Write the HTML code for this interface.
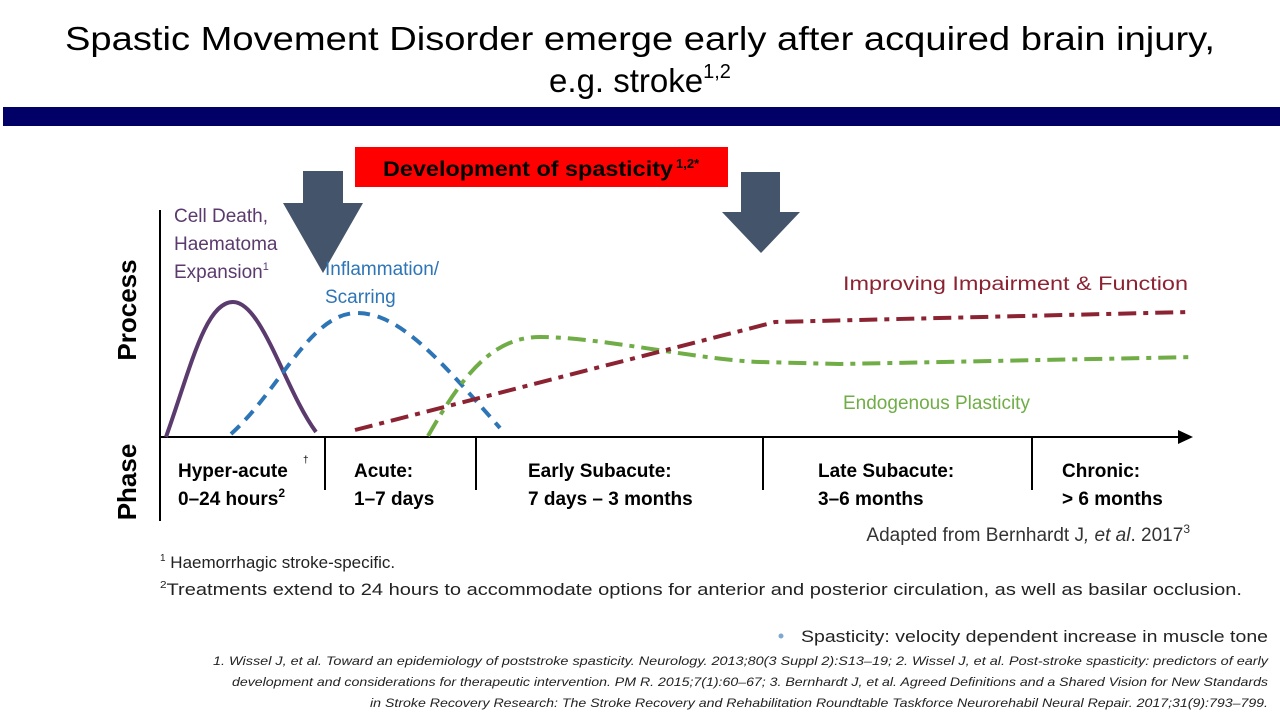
<!DOCTYPE html>
<html><head><meta charset="utf-8"><style>
html,body{margin:0;padding:0;background:#fff;}
svg{display:block;font-family:"Liberation Sans",sans-serif;}
</style></head><body>
<svg width="1280" height="720" viewBox="0 0 1280 720" xmlns="http://www.w3.org/2000/svg">
<text x="640" y="50" font-size="33" text-anchor="middle" textLength="1150" lengthAdjust="spacingAndGlyphs">Spastic Movement Disorder emerge early after acquired brain injury,</text>
<text x="640" y="92" font-size="33" text-anchor="middle">e.g. stroke<tspan font-size="20" dy="-14">1,2</tspan></text>
<rect x="3" y="107" width="1277" height="19" fill="#000066"/>
<rect x="355" y="147" width="373" height="40" fill="#ff0000"/>
<text x="383" y="176" font-size="21" font-weight="bold" textLength="290" lengthAdjust="spacingAndGlyphs">Development of spasticity</text>
<text x="676" y="168" font-size="13" font-weight="bold">1,2*</text>
<polygon points="303,171 343,171 343,203 363,203 323,273 283,203 303,203" fill="#44546a"/>
<polygon points="741,172 780,172 780,212 800,212 761,253 722,212 741,212" fill="#44546a"/>
<line x1="160" y1="210" x2="160" y2="521" stroke="#000" stroke-width="2"/>
<line x1="160" y1="437" x2="1180" y2="437" stroke="#000" stroke-width="2"/>
<polygon points="1178,430 1193,437 1178,444" fill="#000"/>
<g stroke="#000" stroke-width="2">
<line x1="325" y1="437" x2="325" y2="490"/><line x1="476" y1="437" x2="476" y2="490"/>
<line x1="763" y1="437" x2="763" y2="490"/><line x1="1032" y1="437" x2="1032" y2="490"/></g>
<text transform="translate(136,310) rotate(-90)" font-size="26" font-weight="bold" text-anchor="middle">Process</text>
<text transform="translate(136,482) rotate(-90)" font-size="26" font-weight="bold" text-anchor="middle">Phase</text>
<g font-size="19" font-weight="bold">
<text x="178" y="477">Hyper-acute</text><text x="303" y="463" font-size="10" font-weight="normal">†</text>
<text x="178" y="505">0–24 hours<tspan font-size="12" dy="-8">2</tspan></text>
<text x="354" y="477">Acute:</text><text x="354" y="505">1–7 days</text>
<text x="528" y="477">Early Subacute:</text><text x="528" y="505">7 days – 3 months</text>
<text x="818" y="477">Late Subacute:</text><text x="818" y="505">3–6 months</text>
<text x="1062" y="477">Chronic:</text><text x="1062" y="505">&gt; 6 months</text>
</g>
<path d="M166,437 C190,370 205,302 233,302 C262,302 285,390 316,432" fill="none" stroke="#5b3a6e" stroke-width="4"/>
<path d="M231,434 C280,390 310,313 357,313 C400,313 440,360 500,428" fill="none" stroke="#2e75b6" stroke-width="4" stroke-dasharray="12,8"/>
<path d="M428,436 C460,380 490,337 540,337 C600,337 700,360 760,362 L840,364 L1195,357" fill="none" stroke="#70ad47" stroke-width="4" stroke-dasharray="18,7,5,7"/>
<path d="M355,430 L775,322 L1188,312" fill="none" stroke="#8b2332" stroke-width="4" stroke-dasharray="18,7,5,7"/>
<g font-size="19">
<g fill="#5b3a6e"><text x="174" y="222">Cell Death,</text><text x="174" y="250">Haematoma</text><text x="174" y="278">Expansion<tspan font-size="11" dy="-8">1</tspan></text></g>
<g fill="#2e75b6"><text x="325" y="275">Inflammation/</text><text x="325" y="303">Scarring</text></g>
<text x="843" y="290" fill="#8b2332" textLength="345" lengthAdjust="spacingAndGlyphs">Improving Impairment &amp; Function</text>
<text x="843" y="409" fill="#70ad47">Endogenous Plasticity</text>
<text x="1190" y="541" fill="#333" text-anchor="end">Adapted from Bernhardt J<tspan font-style="italic">, et al</tspan>. 2017<tspan font-size="12" dy="-8">3</tspan></text>
</g>
<g font-size="17" fill="#222">
<text x="160" y="568"><tspan font-size="10" dy="-7">1</tspan><tspan dy="7"> Haemorrhagic stroke-specific.</tspan></text>
<text x="160" y="595" textLength="1082" lengthAdjust="spacingAndGlyphs"><tspan font-size="10" dy="-7">2</tspan><tspan dy="7">Treatments extend to 24 hours to accommodate options for anterior and posterior circulation, as well as basilar occlusion.</tspan></text>
</g>
<circle cx="781" cy="636" r="2.5" fill="#7fa7d0"/>
<text x="1268" y="642" font-size="17" text-anchor="end" fill="#222" textLength="467" lengthAdjust="spacingAndGlyphs">Spasticity: velocity dependent increase in muscle tone</text>
<g font-size="12" font-style="italic" fill="#222" text-anchor="end">
<text x="1268" y="665" textLength="1055" lengthAdjust="spacingAndGlyphs">1. Wissel J, et al. Toward an epidemiology of poststroke spasticity. Neurology. 2013;80(3 Suppl 2):S13–19; 2. Wissel J, et al. Post-stroke spasticity: predictors of early</text>
<text x="1268" y="686" textLength="1036" lengthAdjust="spacingAndGlyphs">development and considerations for therapeutic intervention. PM R. 2015;7(1):60–67; 3. Bernhardt J, et al. Agreed Definitions and a Shared Vision for New Standards</text>
<text x="1268" y="707" textLength="898" lengthAdjust="spacingAndGlyphs">in Stroke Recovery Research: The Stroke Recovery and Rehabilitation Roundtable Taskforce Neurorehabil Neural Repair. 2017;31(9):793–799.</text>
</g>
</svg>
</body></html>
